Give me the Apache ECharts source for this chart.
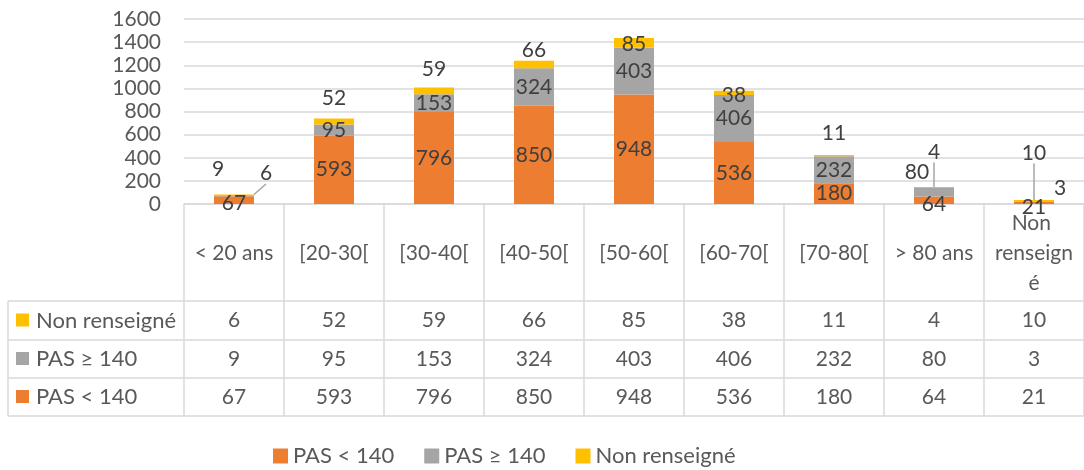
<!DOCTYPE html>
<html>
<head>
<meta charset="utf-8">
<script src="https://cdn.jsdelivr.net/npm/echarts@6/dist/echarts.min.js"></script>
<style>
  html, body { margin: 0; padding: 0; background: #fff; }
  #chart { width: 1084px; height: 470px; }
</style>
</head>
<body>
<div id="chart"></div>
<script>
var categories = ['< 20 ans', '[20-30[', '[30-40[', '[40-50[', '[50-60[', '[60-70[', '[70-80[', '> 80 ans', 'Non renseigné']
var pasInf140 = [67, 593, 796, 850, 948, 536, 180, 64, 21]
var pasSup140 = [9, 95, 153, 324, 403, 406, 232, 80, 3]
var nonRenseigne = [6, 52, 59, 66, 85, 38, 11, 4, 10]
var seriesNames = ['PAS < 140', 'PAS ≥ 140', 'Non renseigné']
var colors = ['#ED7D31', '#A5A5A5', '#FFC000']
var yMin = 0, yMax = 1600, yStep = 200

// étiquettes déplacées : [dx, dy] par rapport au segment (haut pour la série jaune)
var shiftInf = { 0: [0, 3], 7: [0, 4], 8: [0, 4] }
var shiftSup = { 0: [-16, -26], 7: [-17, -20], 8: [26, -13] }
var shiftNr = [[32, -21], [0, -20], [0, -18], [0, -10], [0, 6], [0, 5], [0, -22], [0, -35], [0, -47]]
var leaderNr = [0, 7, 8]

var gridLine = '#D9D9D9'
var textGrey = '#595959'
var font = 'Lato'

function moveLabel(shifts, fromTop) {
  return function (p) {
    var s = shifts[p.dataIndex]
    if (!s) return {}
    var r = p.rect
    var top = Math.min(r.y, r.y + r.height)
    var cx = r.x + r.width / 2
    var cy = fromTop ? top : top + Math.abs(r.height) / 2
    return { x: cx + s[0], y: cy + s[1], align: 'center', verticalAlign: 'middle' }
  }
}

function rowAxis(values, offset, showLabel) {
  return {
    type: 'category',
    gridIndex: 0,
    position: 'bottom',
    offset: offset,
    data: values.map(String),
    axisLine: { show: true, lineStyle: { color: gridLine, width: 1.5 } },
    axisTick: { show: showLabel, length: 38, lineStyle: { color: gridLine, width: 1.5 } },
    axisLabel: { show: showLabel, interval: 0, color: textGrey, fontSize: 21, fontFamily: font, margin: 19, verticalAlign: 'middle' },
    splitLine: { show: false }
  }
}

var labelBase = { show: true, color: '#404040', fontSize: 21, fontFamily: font }

var series = [
  {
    name: seriesNames[0], type: 'bar', stack: 'total', barWidth: 40,
    itemStyle: { color: colors[0] },
    label: labelBase,
    labelLayout: moveLabel(shiftInf, false),
    data: pasInf140
  },
  {
    name: seriesNames[1], type: 'bar', stack: 'total', barWidth: 40,
    itemStyle: { color: colors[1] },
    label: labelBase,
    labelLayout: moveLabel(shiftSup, false),
    data: pasSup140
  },
  {
    name: seriesNames[2], type: 'bar', stack: 'total', barWidth: 40,
    itemStyle: { color: colors[2] },
    label: labelBase,
    labelLayout: moveLabel(shiftNr, true),
    labelLine: { show: false, lineStyle: { color: '#A5A5A5', width: 1.5 } },
    data: nonRenseigne.map(function (v, i) {
      return leaderNr.indexOf(i) >= 0 ? { value: v, labelLine: { show: true } } : v
    })
  }
]

// colonne de gauche du tableau (légende des lignes)
var rowNames = [seriesNames[2], seriesNames[1], seriesNames[0]]
var rowColors = [colors[2], colors[1], colors[0]]
var rowTops = [301, 340, 378, 416]
var graphics = [
  { type: 'line', shape: { x1: 8, y1: 301, x2: 8, y2: 416 }, style: { stroke: gridLine, lineWidth: 1.5 } }
]
rowTops.forEach(function (y) {
  graphics.push({ type: 'line', shape: { x1: 8, y1: y, x2: 184, y2: y }, style: { stroke: gridLine, lineWidth: 1.5 } })
})
rowNames.forEach(function (n, i) {
  var cy = (rowTops[i] + rowTops[i + 1]) / 2
  graphics.push({ type: 'rect', shape: { x: 16, y: cy - 7, width: 13, height: 13 }, style: { fill: rowColors[i] } })
  graphics.push({ type: 'text', x: 36, y: cy, style: { text: n, fill: textGrey, font: '22px ' + font, verticalAlign: 'middle' } })
})

var chart = echarts.init(document.getElementById('chart'))
chart.setOption({
  animation: false,
  textStyle: { fontFamily: font },
  grid: { left: 184, right: -4, top: 19, bottom: 266 },
  legend: {
    data: seriesNames,
    left: 268, top: 440,
    icon: 'rect', itemWidth: 15, itemHeight: 15, itemGap: 30,
    textStyle: { color: textGrey, fontSize: 22, fontFamily: font }
  },
  xAxis: [
    {
      type: 'category',
      data: categories,
      axisLine: { show: true, lineStyle: { color: gridLine, width: 1.5 } },
      axisTick: { show: true, length: 97, lineStyle: { color: gridLine, width: 1.5 } },
      axisLabel: {
        interval: 0, color: textGrey, fontSize: 21, fontFamily: font,
        margin: 49, verticalAlign: 'middle', width: 90, overflow: 'break', lineHeight: 30
      }
    },
    rowAxis(nonRenseigne, 97, true),
    rowAxis(pasSup140, 136, true),
    rowAxis(pasInf140, 174, true),
    rowAxis(categories, 212, false)
  ],
  yAxis: {
    type: 'value',
    min: yMin, max: yMax, interval: yStep,
    axisLine: { show: false },
    axisTick: { show: false },
    axisLabel: { color: textGrey, fontSize: 21, fontFamily: font, margin: 23, formatter: function (v) { return String(v) } },
    splitLine: { lineStyle: { color: gridLine, width: 1.5 } }
  },
  series: series,
  graphic: graphics
})
</script>
</body>
</html>
